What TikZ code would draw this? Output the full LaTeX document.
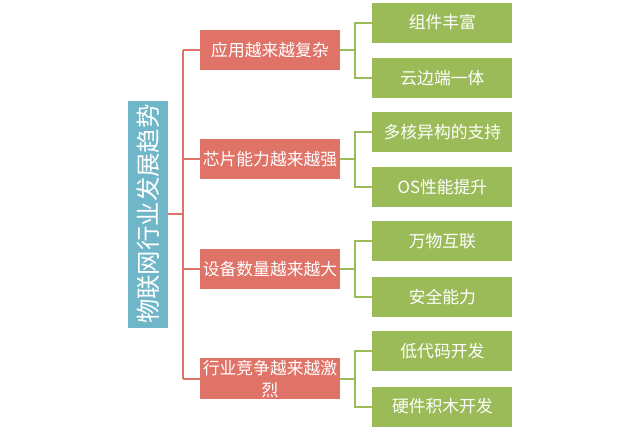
\documentclass[tikz,border=0pt]{standalone}
\usepackage{fontspec}
\setmainfont{Noto Sans CJK SC}
\usepackage{tikz}
\usetikzlibrary{positioning}
\definecolor{xteal}{HTML}{6FB6C8}
\definecolor{xred}{HTML}{E07368}
\definecolor{xgreen}{HTML}{9BBB59}

\begin{document}
\begin{tikzpicture}[
    x=1pt, y=-1pt,
    box/.style={rectangle, fill=#1, text=white, inner sep=0pt, minimum height=40pt, minimum width=140pt, font=\fontsize{16.8}{22}\selectfont, align=center},
    topic/.style={box=xred},
    leaf/.style={box=xgreen},
    link/.style={line width=2pt, color=#1},
]
\useasboundingbox (0,0) rectangle (640,429);

% --- Root ---
\node[box=xteal, minimum width=40pt, minimum height=227pt, font=\fontsize{24.4}{24}\selectfont] (root) at (148,214) {\rotatebox{90}{物联网行业发展趋势}};

% --- Topics ---
\node[topic] (app) at (270,50) {应用越来越复杂};
\node[topic, below=69pt of app] (chip) {芯片能力越来越强};
\node[topic, below=69pt of chip] (dev) {设备数量越来越大};
\node[topic, below=69pt of dev, minimum height=41pt] (comp) {行业竞争越来越激\\烈};

% --- Leaves ---
\node[leaf, right=32pt of app, yshift=27.5pt] (comp1) {组件丰富};
\node[leaf, below=15pt of comp1] (edge) {云边端一体};
\node[leaf, right=32pt of chip, yshift=27.5pt] (hetero) {多核异构的支持};
\node[leaf, below=15pt of hetero] (os) {OS性能提升};
\node[leaf, right=32pt of dev, yshift=27.5pt] (iot) {万物互联};
\node[leaf, below=15pt of iot] (safe) {安全能力};
\node[leaf, right=32pt of comp, yshift=27.5pt] (lowcode) {低代码开发};
\node[leaf, below=15pt of lowcode] (hw) {硬件积木开发};

% --- Root to topics ---
\draw[link=xred] (root.east) -- ++(15pt,0) coordinate (hub);
\draw[link=xred] (hub |- app.west) -- (hub |- comp.west);
\foreach \t in {app,chip,dev,comp}
  \draw[link=xred] (hub |- \t.west) -- (\t.west);

% --- Topics to leaves ---
\foreach \t/\a/\b in {app/comp1/edge, chip/hetero/os, dev/iot/safe, comp/lowcode/hw} {
  \draw[link=xgreen] (\t.east) -- ++(15pt,0) coordinate (b\t);
  \draw[link=xgreen] (\a.west) -| (b\t) |- (\b.west);
}

\end{tikzpicture}
\end{document}
